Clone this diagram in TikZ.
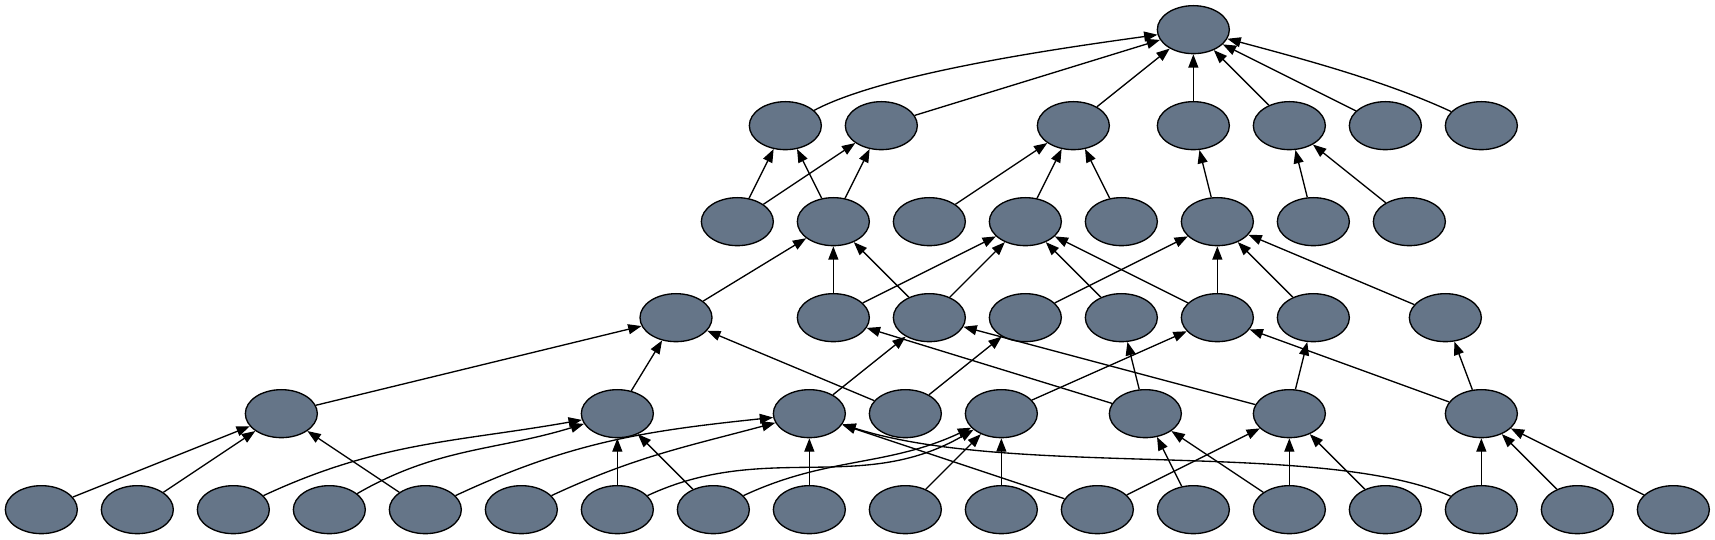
\documentclass[tikz,border=0pt]{standalone}
\usetikzlibrary{shapes.geometric,arrows.meta}
\definecolor{nodefill}{RGB}{101,117,136}
\begin{document}
\begin{tikzpicture}[x=1pt,y=1pt,
  gnode/.style={ellipse,draw=black,line width=1pt,fill=nodefill,minimum width=54pt,minimum height=36pt,inner sep=0pt},
  edge/.style={line width=1pt,-{Triangle[length=10pt,width=7.5pt]}}]
\useasboundingbox (0,0) rectangle (1286.25,404.25);
% rank 0
\node[gnode] (R) at (895,382) {};
% rank 1
\node[gnode] (A1) at (589,310) {};
\node[gnode] (A2) at (661,310) {};
\node[gnode] (A3) at (805,310) {};
\node[gnode] (A4) at (895,310) {};
\node[gnode] (A5) at (967,310) {};
\node[gnode] (A6) at (1039,310) {};
\node[gnode] (A7) at (1111,310) {};
% rank 2
\node[gnode] (B1) at (553,238) {};
\node[gnode] (B2) at (625,238) {};
\node[gnode] (B3) at (697,238) {};
\node[gnode] (B4) at (769,238) {};
\node[gnode] (B5) at (841,238) {};
\node[gnode] (B6) at (913,238) {};
\node[gnode] (B7) at (985,238) {};
\node[gnode] (B8) at (1057,238) {};
% rank 3
\node[gnode] (C1) at (507,166) {};
\node[gnode] (C2) at (625,166) {};
\node[gnode] (C3) at (697,166) {};
\node[gnode] (C4) at (769,166) {};
\node[gnode] (C5) at (841,166) {};
\node[gnode] (C6) at (913,166) {};
\node[gnode] (C7) at (985,166) {};
\node[gnode] (C8) at (1084,166) {};
% rank 4
\node[gnode] (D1) at (211,94) {};
\node[gnode] (D2) at (463,94) {};
\node[gnode] (D3) at (607,94) {};
\node[gnode] (D4) at (679,94) {};
\node[gnode] (D5) at (751,94) {};
\node[gnode] (D6) at (859,94) {};
\node[gnode] (D7) at (967,94) {};
\node[gnode] (D8) at (1111,94) {};
% rank 5
\foreach \i in {1,...,18} \node[gnode] (E\i) at ({31+72*(\i-1)},22) {};

% edges to R
\draw[edge] (A1) to[out=28,in=188,looseness=0.6] (R);
\draw[edge] (A2) -- (R);
\draw[edge] (A3) -- (R);
\draw[edge] (A4) -- (R);
\draw[edge] (A5) -- (R);
\draw[edge] (A6) -- (R);
\draw[edge] (A7) to[out=155,in=-15,looseness=0.8] (R);
% edges to rank 1
\draw[edge] (B1) -- (A1);
\draw[edge] (B1) -- (A2);
\draw[edge] (B2) -- (A1);
\draw[edge] (B2) -- (A2);
\draw[edge] (B3) -- (A3);
\draw[edge] (B4) -- (A3);
\draw[edge] (B5) -- (A3);
\draw[edge] (B6) -- (A4);
\draw[edge] (B7) -- (A5);
\draw[edge] (B8) -- (A5);
% edges to rank 2
\draw[edge] (C1) -- (B2);
\draw[edge] (C2) -- (B2);
\draw[edge] (C3) -- (B2);
\draw[edge] (C2) -- (B4);
\draw[edge] (C3) -- (B4);
\draw[edge] (C5) -- (B4);
\draw[edge] (C6) -- (B4);
\draw[edge] (C4) -- (B6);
\draw[edge] (C6) -- (B6);
\draw[edge] (C7) -- (B6);
\draw[edge] (C8) -- (B6);
% edges to rank 3
\draw[edge] (D1) -- (C1);
\draw[edge] (D2) -- (C1);
\draw[edge] (D4) -- (C1);
\draw[edge] (D6) -- (C2);
\draw[edge] (D3) -- (C3);
\draw[edge] (D7) -- (C3);
\draw[edge] (D4) -- (C4);
\draw[edge] (D6) -- (C5);
\draw[edge] (D5) -- (C6);
\draw[edge] (D8) -- (C6);
\draw[edge] (D7) -- (C7);
\draw[edge] (D8) -- (C8);
% edges to rank 4
\draw[edge] (E1) -- (D1);
\draw[edge] (E2) -- (D1);
\draw[edge] (E5) -- (D1);
\draw[edge] (E3) to[out=25,in=190] (D2);
\draw[edge] (E4) to[out=30,in=197] (D2);
\draw[edge] (E7) -- (D2);
\draw[edge] (E8) -- (D2);
\draw[edge] (E5) to[out=25,in=186] (D3);
\draw[edge] (E6) to[out=25,in=195] (D3);
\draw[edge] (E9) -- (D3);
\draw[edge] (E12) -- (D3);
\draw[edge] (E16) .. controls (990,75) and (760,45) .. (D3);
\draw[edge] (E7) to[out=25,in=210] (D5);
\draw[edge] (E8) to[out=25,in=205] (D5);
\draw[edge] (E10) -- (D5);
\draw[edge] (E11) -- (D5);
\draw[edge] (E13) -- (D6);
\draw[edge] (E14) -- (D6);
\draw[edge] (E12) -- (D7);
\draw[edge] (E14) -- (D7);
\draw[edge] (E15) -- (D7);
\draw[edge] (E16) -- (D8);
\draw[edge] (E17) -- (D8);
\draw[edge] (E18) -- (D8);
\end{tikzpicture}
\end{document}
